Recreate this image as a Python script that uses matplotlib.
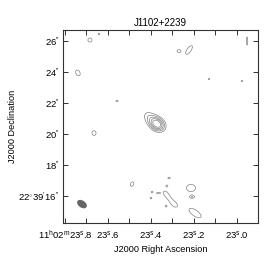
import numpy as np
import matplotlib
matplotlib.use("Agg")
import matplotlib.pyplot as plt
from matplotlib.patches import Ellipse

plt.rcParams['font.family'] = ['Liberation Sans', 'DejaVu Sans']
plt.rcParams['mathtext.fontset'] = 'custom'
plt.rcParams['mathtext.rm'] = 'Liberation Sans'

# field: 11h02m23s.x , +22d39'yy"
RA_REF = 23.8                       # seconds of RA at the first labelled tick
K = 15.0 * np.cos(np.radians(22.654))  # arcsec per second of RA

# Gaussian components of the map (RA s, Dec ", peak, sigma major/minor ", PA deg)
comp_ra = [23.370, 23.409,
           23.684, 23.642, 23.740, 23.558, 23.665, 23.488, 23.270, 23.223,
           22.953, 23.130, 22.977, 23.316, 23.326, 23.395, 23.367, 23.400,
           23.330, 23.293, 23.330, 23.214, 23.209, 23.195]
comp_dec = [20.62, 21.10,
            26.06, 26.45, 23.94, 22.13, 20.06, 16.77, 25.35, 25.42,
            26.00, 23.55, 23.42, 17.16, 16.65, 16.26, 16.19, 15.87,
            16.13, 15.48, 15.35, 16.52, 15.94, 14.90]
comp_amp = [10.0, 3.5,
            4.0, 4.0, 4.0, 4.0, 4.0, 4.0, 4.0, 4.0,
            4.0, 4.0, 4.0, 4.0, 4.0, 4.0, 4.0, 4.0,
            3.6, 3.6, 4.0, 4.0, 4.0, 4.0]
comp_maj = [0.38, 0.45,
            0.17, 0.07, 0.26, 0.10, 0.20, 0.20, 0.15, 0.43,
            0.34, 0.06, 0.06, 0.10, 0.07, 0.07, 0.12, 0.07,
            0.35, 0.35, 0.07, 0.38, 0.15, 0.60]
comp_min = [0.30, 0.32,
            0.17, 0.07, 0.17, 0.05, 0.17, 0.13, 0.12, 0.17,
            0.05, 0.06, 0.06, 0.07, 0.07, 0.07, 0.05, 0.07,
            0.20, 0.20, 0.07, 0.30, 0.10, 0.25]
comp_pa = [55, 50,
           0, 0, 30, 90, 0, 150, 90, 325,
           0, 0, 0, 90, 0, 0, 90, 0,
           40, 45, 0, 90, 90, 55]

levels = [3.0, 4.5, 6.0, 7.5, 9.0]

# restoring beam
beam_ra, beam_dec = 23.721, 15.48
beam_maj, beam_min, beam_pa = 0.70, 0.45, 55

ra_ticks = [23.8, 23.7, 23.6, 23.5, 23.4, 23.3, 23.2, 23.1, 23.0]
ra_labels = [r'11$^{\rm h}$02$^{\rm m}$23$^{\rm s}$.8', '', r'23$^{\rm s}$.6', '',
             r'23$^{\rm s}$.4', '', r'23$^{\rm s}$.2', '', r'23$^{\rm s}$.0']
dec_ticks = [16, 18, 20, 22, 24, 26]
dec_labels = [r"22$^{\circ}$39$^{\prime}$16$^{\prime\prime}$", r"18$^{\prime\prime}$",
              r"20$^{\prime\prime}$", r"22$^{\prime\prime}$", r"24$^{\prime\prime}$",
              r"26$^{\prime\prime}$"]


def to_x(ra):
    return (np.asarray(ra) - RA_REF) * K


def build_map(xg, yg):
    img = np.zeros_like(xg)
    for ra, dec, a, smaj, smin, pa in zip(comp_ra, comp_dec, comp_amp,
                                          comp_maj, comp_min, comp_pa):
        dx = xg - to_x(ra)
        dy = yg - dec
        t = np.radians(pa)
        u = dx * np.sin(t) + dy * np.cos(t)   # along major axis
        v = dx * np.cos(t) - dy * np.sin(t)
        img += a * np.exp(-0.5 * ((u / smaj) ** 2 + (v / smin) ** 2))
    return img


fig = plt.figure(figsize=(2.75, 2.63), dpi=100)
ax = fig.add_axes([63 / 275, 1 - 223 / 263, 195 / 275, 193 / 263])

xlim = (to_x(23.8093), to_x(22.9023))
ylim = (14.26, 26.71)
xs = np.linspace(xlim[1], xlim[0], 900)
ys = np.linspace(ylim[0], ylim[1], 900)
xg, yg = np.meshgrid(xs, ys)
img = build_map(xg, yg)

ax.contour(xg, yg, img, levels=levels, colors='#808080', linewidths=0.5)

ax.add_patch(Ellipse((to_x(beam_ra), beam_dec), beam_maj, beam_min,
                     angle=90 - beam_pa, facecolor='#666666', edgecolor='none'))

ax.set_xlim(*xlim)
ax.set_ylim(*ylim)

ax.set_xticks(to_x(ra_ticks))
ax.set_xticklabels(ra_labels)
ax.set_yticks(dec_ticks)
ax.set_yticklabels(dec_labels)
ax.tick_params(direction='in', length=3.5, width=0.7, color='#333333',
               top=True, right=True, labelsize=6.8, pad=2.5)
ax.tick_params(axis='x', pad=4)
for s in ax.spines.values():
    s.set_linewidth(0.8)
    s.set_color('#333333')

ax.set_title('J1102+2239', fontsize=7, pad=3)
ax.set_xlabel('J2000 Right Ascension', fontsize=6.6, labelpad=3)
ax.set_ylabel('J2000 Declination', fontsize=6.6, labelpad=1)

fig.savefig('out.png', dpi=100)
